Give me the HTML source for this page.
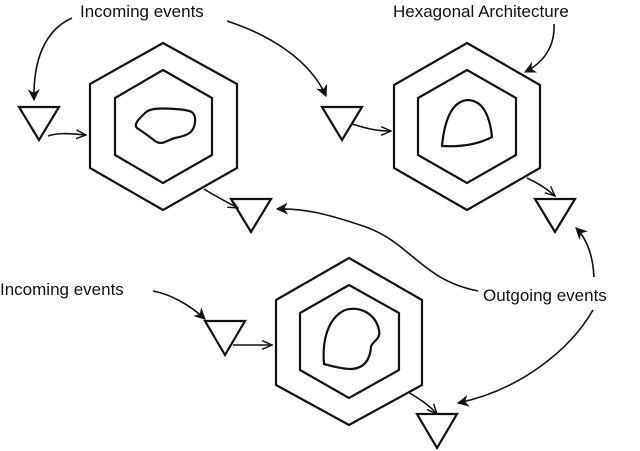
<!DOCTYPE html>
<html><head><style>
html,body{margin:0;padding:0;background:#fff;}
svg{display:block;}
text{font-family:"Liberation Sans",sans-serif;font-size:17px;fill:#111;}
</style></head><body>
<svg width="640" height="451" viewBox="0 0 640 451">
<defs>
<marker id="a" viewBox="0 0 10 10" refX="9" refY="5" markerWidth="12" markerHeight="12" markerUnits="userSpaceOnUse" orient="auto"><path d="M0,0 L10,5 L0,10 L3,5 Z" fill="#111"/></marker>
<marker id="o" viewBox="0 0 10 10" refX="9" refY="5" markerWidth="11" markerHeight="11" markerUnits="userSpaceOnUse" orient="auto"><path d="M0,1 L9,5 L0,9" fill="none" stroke="#111" stroke-width="1.3"/></marker>
</defs>
<g fill="none" stroke="#111" stroke-width="2.2" stroke-linejoin="miter">
<!-- hex 1 -->
<polygon points="163,43 237,84 237,168 163,210 90,168 90,84"/>
<polygon points="163,70 212,98 212,155 163,183 115,155 115,98"/>
<path d="M137,128 C133,124 140,118 145,113 C150,108 160,108 175,109 C192,110 196,112 195,122 C194,134 185,136 175,138 C167,140 162,146 155,141 C150,137 143,132 137,128 Z"/>
<!-- hex 2 -->
<polygon points="467,43 540,85 540,168 467,210 394,168 394,85"/>
<polygon points="467,70 516,98 516,155 467,183 418,155 418,98"/>
<path d="M442,146 C444,125 450,102 467,100 C484,100 490,118 492,137 C477,145 460,147 442,146 Z"/>
<!-- hex 3 -->
<polygon points="349,258 422,300 422,385 349,425 276,385 276,300"/>
<polygon points="349,285 399,313 399,370 349,398 300,370 300,313"/>
<path d="M324,364 C322,340 328,318 345,310 C358,306 375,312 379,330 C381,340 372,341 371,347 C370,360 364,368 352,369 C342,369 332,366 324,364 Z"/>
<!-- triangles -->
<polygon points="19,107 59,107 39,140"/>
<polygon points="231,199 271,199 251,232"/>
<polygon points="322,107 362,107 342,140"/>
<polygon points="535,199 575,199 555,232"/>
<polygon points="205,321 245,321 225,355"/>
<polygon points="417,414 457,414 437,448"/>
</g>
<g fill="none" stroke="#111" stroke-width="1.6">
<path d="M48,136 C60,132 72,134 86,135" marker-end="url(#o)"/>
<path d="M204,189 C215,196 225,201 238,208" marker-end="url(#o)"/>
<path d="M352,124 C365,128 375,131 391,131" marker-end="url(#o)"/>
<path d="M527,178 C538,183 546,188 555,196" marker-end="url(#o)"/>
<path d="M233,345 C245,345 258,345 272,345" marker-end="url(#o)"/>
<path d="M408,392 C418,398 428,404 437,414" marker-end="url(#o)"/>
<path d="M72,18 C45,30 33,60 34,100" marker-end="url(#a)"/>
<path d="M227,21 C270,35 310,60 326,96" marker-end="url(#a)"/>
<path d="M554,24 C555,45 545,62 525,72" marker-end="url(#a)"/>
<path d="M478,291 C420,280 410,240 360,225 C330,215 305,208 277,209" marker-end="url(#a)"/>
<path d="M594,277 C593,258 588,240 576,228" marker-end="url(#a)"/>
<path d="M593,310 C570,350 520,390 458,403" marker-end="url(#a)"/>
<path d="M153,291 C170,294 190,305 205,319" marker-end="url(#a)"/>
</g>
<text x="80" y="17">Incoming events</text>
<text x="393" y="17">Hexagonal Architecture</text>
<text x="0" y="295">Incoming events</text>
<text x="483" y="301">Outgoing events</text>
</svg>
</body></html>
